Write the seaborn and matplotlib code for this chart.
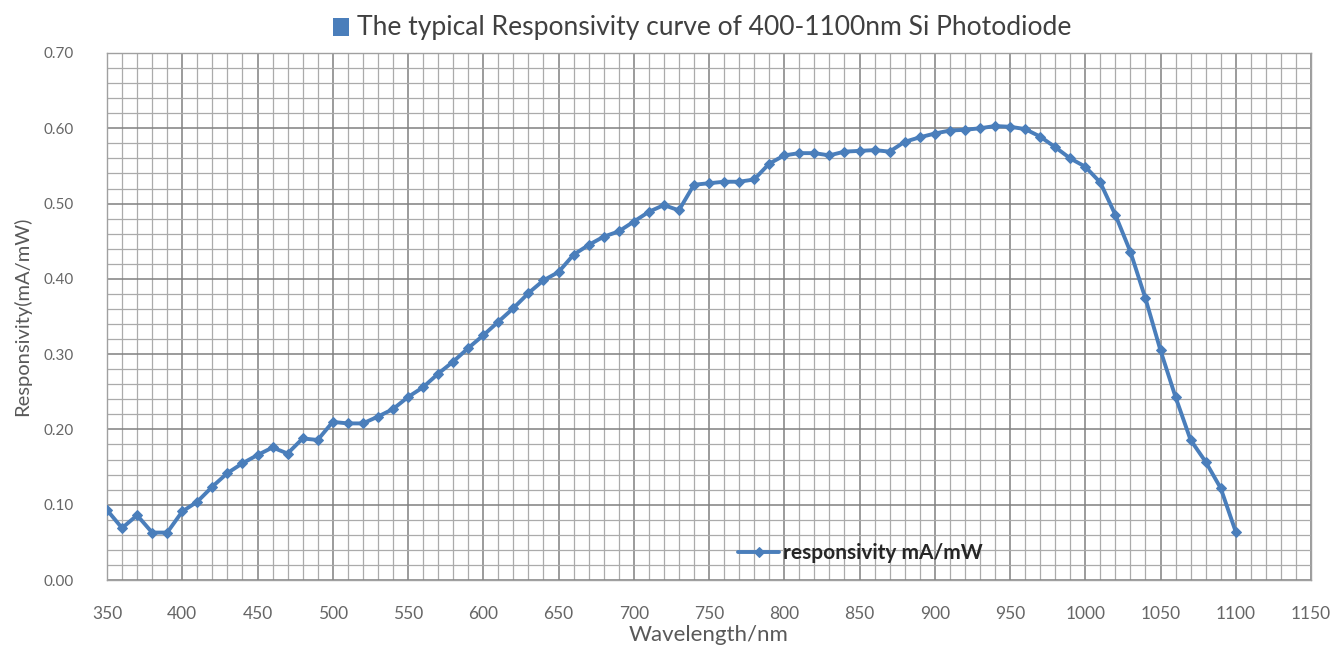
import matplotlib
matplotlib.use("Agg")
import matplotlib.pyplot as plt
from matplotlib.patches import Rectangle
from matplotlib.ticker import MultipleLocator, FormatStrFormatter
import seaborn as sns
import pandas as pd

# ---- data ----
wavelength = list(range(350, 1101, 10))
responsivity = [
    0.093, 0.069, 0.086, 0.063, 0.063, 0.091, 0.104, 0.124, 0.142, 0.155,
    0.166, 0.176, 0.168, 0.188, 0.186, 0.210, 0.208, 0.208, 0.217, 0.227,
    0.243, 0.256, 0.274, 0.290, 0.308, 0.325, 0.343, 0.361, 0.381, 0.398,
    0.409, 0.432, 0.445, 0.456, 0.463, 0.476, 0.489, 0.498, 0.491, 0.525,
    0.527, 0.529, 0.529, 0.532, 0.553, 0.564, 0.567, 0.567, 0.564, 0.569,
    0.570, 0.571, 0.569, 0.582, 0.588, 0.593, 0.597, 0.598, 0.600, 0.603,
    0.602, 0.599, 0.589, 0.575, 0.560, 0.549, 0.528, 0.485, 0.436, 0.374,
    0.305, 0.243, 0.186, 0.157, 0.122, 0.064,
]
series_name = "responsivity mA/mW"
title = "The typical Responsivity curve of 400-1100nm Si Photodiode"
x_label = "Wavelength/nm"
y_label = "Responsivity(mA/mW)"

df = pd.DataFrame({"Wavelength": wavelength, "Responsivity": responsivity})

sns.set_style("white")
plt.rcParams["font.family"] = ["Lato", "DejaVu Sans"]

fig = plt.figure(figsize=(13.43, 6.49), dpi=100)
ax = fig.add_axes([107 / 1343, 69 / 649, (1311 - 107) / 1343, (580 - 53) / 649])

blue = "#4A7EBB"
sns.lineplot(data=df, x="Wavelength", y="Responsivity", ax=ax, color=blue,
             linewidth=2.8, marker="D", markersize=5.5, markeredgecolor=blue,
             label=series_name, zorder=5)

ax.set_xlim(350, 1150)
ax.set_ylim(0, 0.70)
ax.xaxis.set_major_locator(MultipleLocator(50))
ax.xaxis.set_minor_locator(MultipleLocator(10))
ax.yaxis.set_major_locator(MultipleLocator(0.10))
ax.yaxis.set_minor_locator(MultipleLocator(0.02))
ax.yaxis.set_major_formatter(FormatStrFormatter("%.2f"))

ax.grid(which="major", color="#808080", linewidth=1.1, zorder=0)
ax.grid(which="minor", color="#ababab", linewidth=0.9, zorder=0)
ax.set_axisbelow(True)
for sp in ax.spines.values():
    sp.set_color("#a0a0a0")
    sp.set_linewidth(1.0)

ax.tick_params(axis="both", which="both", length=0, labelcolor="#666666")
ax.tick_params(axis="x", labelsize=12.5, pad=19)
ax.tick_params(axis="y", labelsize=11, pad=24)

ax.set_xlabel(x_label, fontsize=16, color="#595959", labelpad=2)
ax.set_ylabel(y_label, fontsize=14.5, color="#595959", labelpad=9)

leg = ax.legend(loc="center", bbox_to_anchor=((860 - 107) / 1204, (580 - 553) / 527),
                frameon=False, handlelength=2.0, handletextpad=0.15,
                prop={"weight": "bold", "size": 15})
for t in leg.get_texts():
    t.set_color("#262626")

# title with blue square
fig.text(357 / 1343, 1 - 27 / 649, title, ha="left", va="center",
         fontsize=19.1, color="#404040")
fig.patches.append(Rectangle((333 / 1343, 1 - 36 / 649), 16 / 1343, 18 / 649,
                             transform=fig.transFigure, facecolor=blue,
                             edgecolor="none"))

fig.savefig("out.png", dpi=100)
